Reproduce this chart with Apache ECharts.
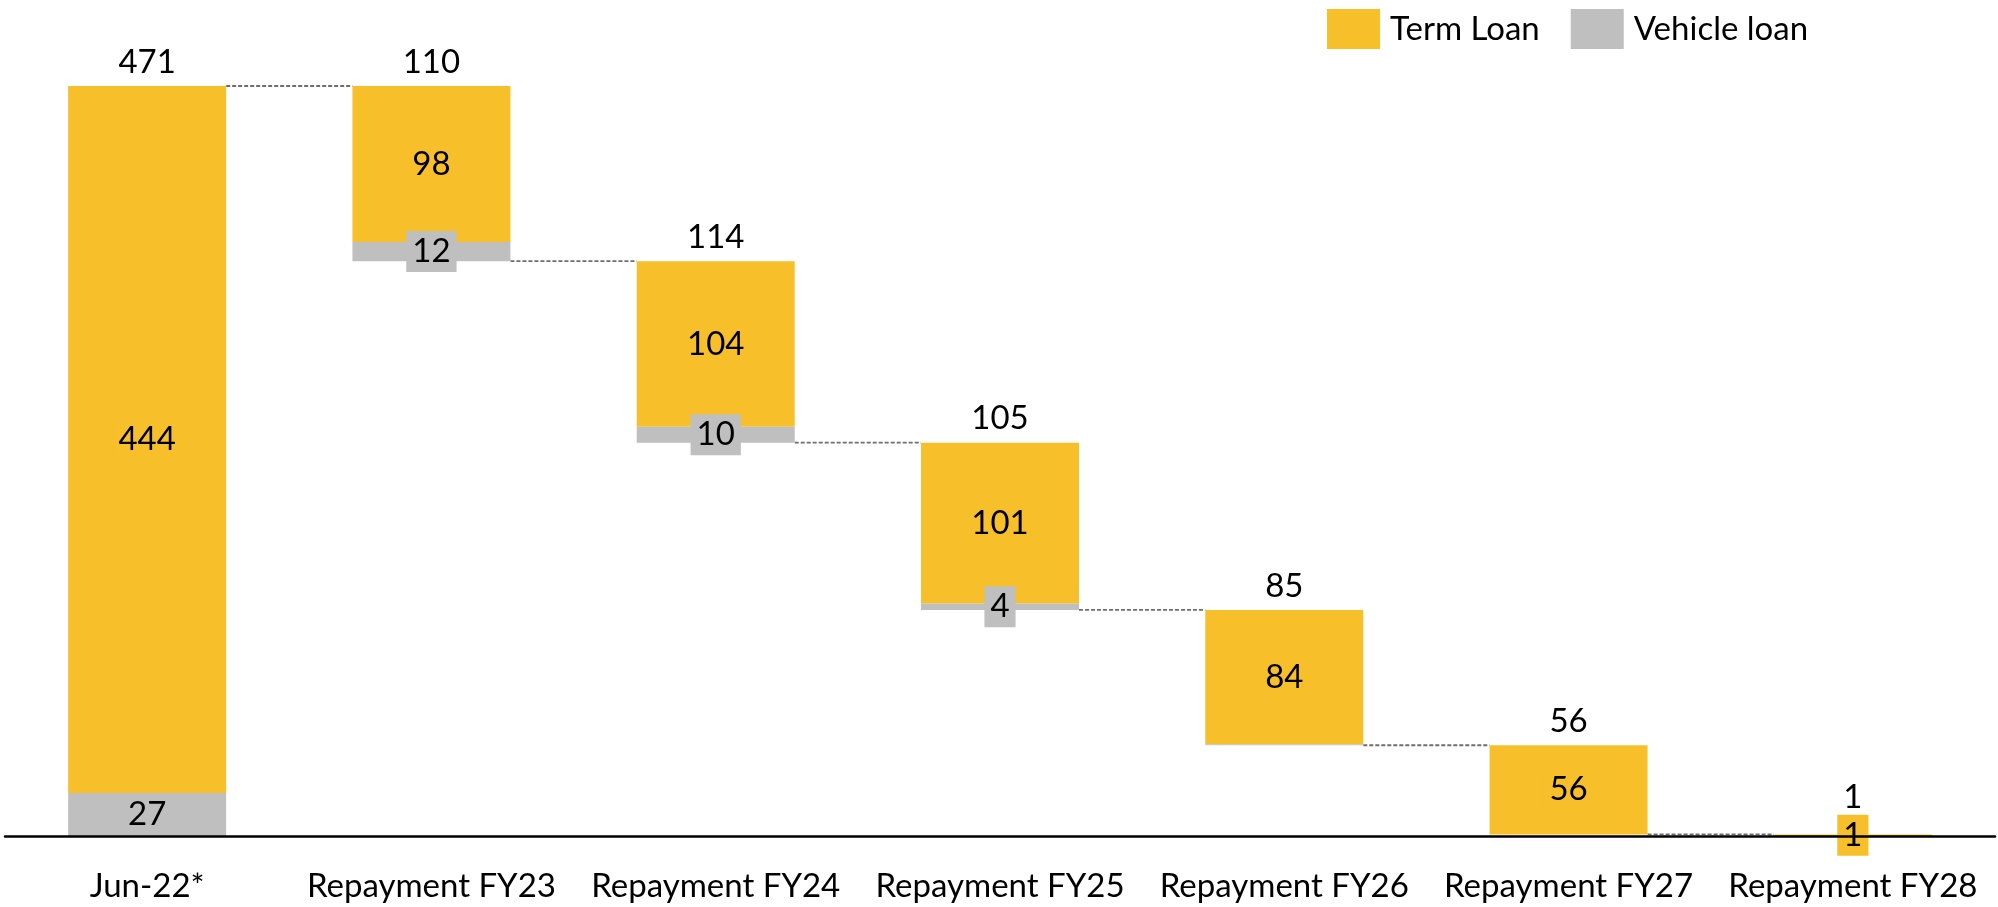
<!DOCTYPE html>
<html>
<head>
<meta charset="utf-8">
<script src="https://cdn.jsdelivr.net/npm/echarts@6/dist/echarts.min.js"></script>
<style>
html,body{margin:0;padding:0;background:#fff;}
#chart{width:1998px;height:907px;}
</style>
</head>
<body>
<div id="chart"></div>
<script>
const categories = ['Jun-22*', 'Repayment FY23', 'Repayment FY24', 'Repayment FY25', 'Repayment FY26', 'Repayment FY27', 'Repayment FY28'];
const termLoan = [444, 98, 104, 101, 84.4, 56, 1];
const vehicleLoan = [27, 12, 10, 4, 0.6, 0, 0];

const YELLOW = '#F7BF2A';
const GRAY = '#BFBFBF';
const FONT = 'Lato';
const FS = 33;

// derived layout of the waterfall
const totals = categories.map((c, i) => termLoan[i] + vehicleLoan[i]);
const tops = [];
const bases = [];
let level = 0;
categories.forEach((c, i) => {
  if (i === 0) { bases.push(0); tops.push(totals[0]); level = totals[0]; }
  else { tops.push(level); level = level - totals[i]; bases.push(level); }
});
const after = categories.map((c, i) => i === 0 ? totals[0] : bases[i]);
// middle of the term-loan segment (for keeping total labels clear of inside boxes)
const tlMid = categories.map((c, i) => bases[i] + vehicleLoan[i] + termLoan[i] / 2);

const chart = echarts.init(document.getElementById('chart'));
const labelBase = {
  show: true, position: 'inside', color: '#000', fontSize: FS, fontFamily: FONT,
  lineHeight: 33, padding: [4, 6],
  formatter: p => String(Math.round(p.value))
};

chart.setOption({
  animation: false,
  legend: {
    data: ['Term Loan', 'Vehicle loan'],
    left: 1322, top: 4,
    itemWidth: 53, itemHeight: 40, itemGap: 31,
    icon: 'rect',
    textStyle: { fontSize: FS, fontFamily: FONT, color: '#000', padding: [0, 0, 0, 5] }
  },
  grid: { left: 5, right: 3, top: 86, bottom: 71 },
  xAxis: {
    type: 'category', data: categories,
    axisLine: { lineStyle: { color: '#000', width: 2.5 } },
    axisTick: { show: false },
    axisLabel: { color: '#000', fontSize: FS, fontFamily: FONT, margin: 34, interval: 0 },
    z: 10
  },
  yAxis: { type: 'value', min: 0, max: totals[0], show: false, splitLine: { show: false } },
  series: [
    {
      name: 'base', type: 'bar', stack: 'w', barWidth: 158,
      itemStyle: { color: 'transparent' }, data: bases, silent: true
    },
    {
      name: 'Vehicle loan', type: 'bar', stack: 'w', barWidth: 158,
      itemStyle: { color: GRAY },
      data: vehicleLoan.map(v => ({ value: v, label: { show: v >= 1 } })),
      label: Object.assign({}, labelBase, { backgroundColor: GRAY }),
      z: 3
    },
    {
      name: 'Term Loan', type: 'bar', stack: 'w', barWidth: 158,
      itemStyle: { color: YELLOW },
      data: termLoan,
      label: Object.assign({}, labelBase, { backgroundColor: YELLOW }),
      z: 2
    },
    {
      name: 'connectors', type: 'custom', silent: true,
      data: after.slice(0, -1).map((v, i) => [i, v]),
      renderItem: (params, api) => {
        const i = api.value(0);
        const v = api.value(1);
        const p1 = api.coord([i, v]);
        const p2 = api.coord([i + 1, v]);
        const half = 79;
        return {
          type: 'line',
          shape: { x1: p1[0] + half, y1: p1[1], x2: p2[0] - half, y2: p2[1] },
          style: { stroke: '#6E6E6E', lineWidth: 1.8, lineDash: [4, 2] }
        };
      },
      z: 1
    },
    {
      name: 'totals', type: 'custom', silent: true,
      data: tops.map((v, i) => [i, v, totals[i], tlMid[i]]),
      renderItem: (params, api) => {
        const i = api.value(0);
        const p = api.coord([i, api.value(1)]);
        const m = api.coord([i, api.value(3)]);
        const y = Math.min(p[1] - 24, m[1] - 38);
        return {
          type: 'text',
          x: p[0], y: y,
          style: {
            text: String(Math.round(api.value(2))),
            fill: '#000', fontSize: FS, fontFamily: FONT,
            align: 'center', verticalAlign: 'middle'
          }
        };
      },
      z: 5
    }
  ]
});
</script>
</body>
</html>
